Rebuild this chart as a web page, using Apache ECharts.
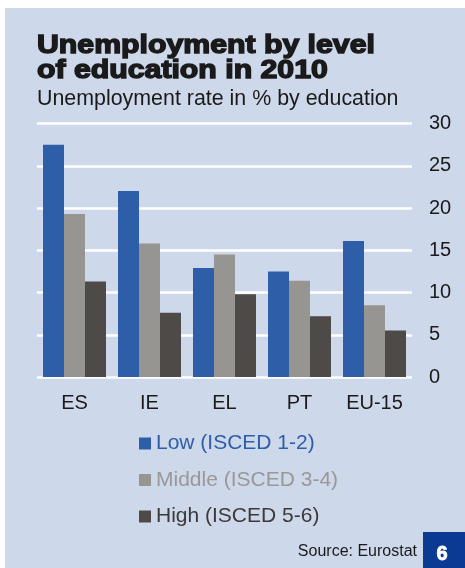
<!DOCTYPE html>
<html>
<head>
<meta charset="utf-8">
<script src="https://cdn.jsdelivr.net/npm/echarts@6/dist/echarts.min.js"></script>
<style>
  html, body { margin: 0; padding: 0; background: #ffffff; }
  #chart { width: 465px; height: 568px; }
</style>
</head>
<body>
<div id="chart"></div>
<script>
// Unemployment rate (%) by level of education, 2010
const countries = ['ES', 'IE', 'EL', 'PT', 'EU-15'];
const lowEdu = [27.5, 22.0, 12.9, 12.5, 16.1];
const middleEdu = [19.3, 15.8, 14.5, 11.4, 8.5];
const highEdu = [11.3, 7.6, 9.8, 7.2, 5.5];
const seriesNames = ['Low (ISCED 1-2)', 'Middle (ISCED 3-4)', 'High (ISCED 5-6)'];
const yTicks = [0, 5, 10, 15, 20, 25, 30];

const colors = ['#2f5ea9', '#979592', '#4d4a48'];
const legendTextColors = ['#2f5ea9', '#9a9896', '#3c3a39'];
const font = "'Liberation Sans', Arial, sans-serif";
const ink = '#1b1a1a';

const chart = echarts.init(document.getElementById('chart'), null, { renderer: 'canvas' });

const barSeries = [lowEdu, middleEdu, highEdu].map((vals, i) => ({
  name: seriesNames[i],
  type: 'bar',
  data: vals,
  barGap: '0%',
  barCategoryGap: '16%',
  itemStyle: { color: colors[i] },
  emphasis: { disabled: true }
}));

// heavy, wide headline text
function headline(text, y) {
  return {
    type: 'text', x: 37, y: y, scaleX: 1.21,
    style: {
      text: text, x: 0, y: 0,
      font: "bold 25px 'Liberation Sans', Arial, sans-serif",
      fill: ink, stroke: ink, lineWidth: 1.4,
      align: 'left', verticalAlign: 'middle'
    }
  };
}

chart.setOption({
  animation: false,
  backgroundColor: '#ffffff',
  graphic: [
    { type: 'rect', x: 5, y: 8, shape: { width: 460, height: 560 }, style: { fill: '#cdd8ea' }, z: -10 },
    headline('Unemployment by level', 46.5),
    headline('of education in 2010', 71),
    { type: 'text', x: 37, y: 99, style: { text: 'Unemployment rate in % by education', font: "21.4px 'Liberation Sans', Arial, sans-serif", fill: ink, align: 'left', verticalAlign: 'middle' } },
    { type: 'text', x: 417, y: 552, style: { text: 'Source: Eurostat', font: "16px 'Liberation Sans', Arial, sans-serif", fill: ink, align: 'right', verticalAlign: 'middle' } },
    { type: 'rect', x: 423, y: 532, shape: { width: 42, height: 36 }, style: { fill: '#0a3a94' } },
    { type: 'text', x: 442, y: 554, style: { text: '6', font: "bold 20px 'Liberation Sans', Arial, sans-serif", fill: '#ffffff', stroke: '#ffffff', lineWidth: 0.8, align: 'center', verticalAlign: 'middle' } }
  ],
  legend: {
    orient: 'vertical',
    left: 139,
    top: 433,
    padding: 0,
    itemWidth: 12,
    itemHeight: 12,
    itemGap: 15.5,
    icon: 'rect',
    selectedMode: false,
    textStyle: { fontFamily: font, fontSize: 21 },
    data: seriesNames.map((n, i) => ({ name: n, textStyle: { color: legendTextColors[i] } }))
  },
  grid: { left: 37, right: 53, top: 123.5, bottom: 191, containLabel: false },
  xAxis: {
    type: 'category',
    data: countries,
    axisLine: { show: false },
    axisTick: { show: false },
    axisLabel: { color: ink, fontFamily: font, fontSize: 20, margin: 16 }
  },
  yAxis: {
    type: 'value',
    position: 'right',
    min: yTicks[0],
    max: yTicks[yTicks.length - 1],
    interval: 5,
    axisLine: { show: false },
    axisTick: { show: false },
    axisLabel: { color: ink, fontFamily: font, fontSize: 20, margin: 17 },
    splitLine: { lineStyle: { color: '#ffffff', width: 2.5 } }
  },
  series: barSeries
});
</script>
</body>
</html>
